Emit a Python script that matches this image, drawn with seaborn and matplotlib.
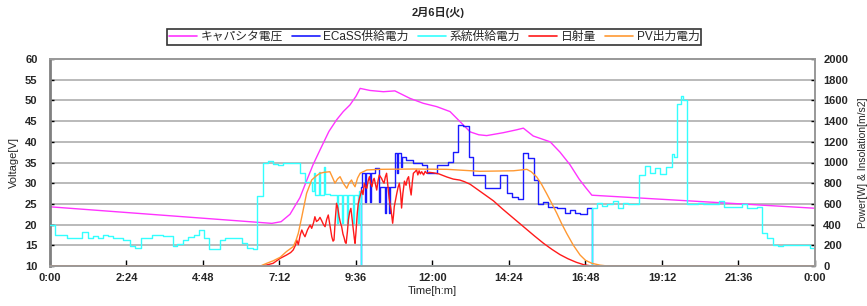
import numpy as np
import pandas as pd
import matplotlib
matplotlib.use("Agg")
import matplotlib.pyplot as plt
import seaborn as sns

# time axis in hours (0-24), power in W, voltage in V
tick_hours = [0, 2.4, 4.8, 7.2, 9.6, 12.0, 14.4, 16.8, 19.2, 21.6, 24.0]
tick_labels = ["0:00", "2:24", "4:48", "7:12", "9:36", "12:00", "14:24", "16:48", "19:12", "21:36", "0:00"]

# キャパシタ電圧 [V]
cap_t = [0, 6.96, 7.25, 7.53, 7.84, 8.05, 8.26, 8.5, 8.75, 8.99, 9.2, 9.41, 9.6, 9.73, 10.04, 10.46,
         10.82, 11.29, 11.71, 12.13, 12.55, 12.86, 13.18, 13.45, 13.7, 14.22, 14.64, 14.85, 15.16,
         15.69, 16.0, 16.31, 16.6, 16.8, 17.0, 24.0]
cap_v = [24.3, 20.3, 20.7, 22.5, 26.5, 30.6, 34.6, 38.5, 42.5, 45.3, 47.3, 48.9, 51.0, 52.9, 52.4, 52.1,
         52.3, 50.5, 49.3, 48.5, 47.3, 44.9, 42.4, 41.7, 41.5, 42.2, 42.9, 43.3, 41.4,
         40.0, 37.5, 34.5, 31.0, 29.0, 27.1, 23.95]

# ECaSS供給電力 [W]
ecass_t = [0, 9.75, 9.78, 9.88, 9.91, 10.03, 10.06, 10.20, 10.33, 10.36, 10.50, 10.53, 10.65, 10.68,
           10.82, 10.90, 10.93, 11.0, 11.03, 11.17, 11.29, 11.40, 11.66, 11.82, 12.13, 12.50, 12.65,
           12.81, 12.97, 13.15, 13.28, 13.65, 14.12, 14.33, 14.49, 14.69, 14.85, 15.01, 15.18, 15.32,
           15.48, 15.63, 15.90, 16.16, 16.31, 16.47, 16.63, 16.84, 17.0, 24.0]
ecass_w = [0, 768, 896, 620, 896, 620, 896, 944, 620, 768, 512, 768, 512, 768,
           1088, 900, 1088, 960, 1056, 1024, 1024, 992, 980, 896, 976, 1008, 1104,
           1364, 1350, 1056, 880, 752, 880, 704, 664, 650, 1088, 1040, 830, 600,
           620, 572, 565, 508, 540, 508, 500, 556, 0, 0]

# 系統供給電力 [W]
grid_t = [0, 0.157, 0.52, 0.99, 1.18, 1.36, 1.52, 1.67, 1.83, 1.99, 2.30, 2.51, 2.67, 2.84, 3.19,
          3.56, 3.85, 4.0, 4.16, 4.34, 4.52, 4.68, 4.83, 5.0, 5.33, 5.49, 6.01, 6.17, 6.38, 6.48,
          6.69, 6.85, 7.0, 7.16, 7.32, 7.84, 8.0, 8.21, 8.28, 8.31, 8.44, 8.47, 8.60, 8.63, 8.78,
          8.99, 9.02, 9.15, 9.18, 9.31, 9.34, 9.52, 9.55, 9.67, 9.70, 9.75, 17.0, 17.15, 17.31,
          17.46, 17.67, 17.83, 17.99, 18.14, 18.49, 18.67, 18.82, 18.98, 19.14, 19.33, 19.50, 19.58,
          19.66, 19.79, 19.87, 19.97, 20.34, 20.50, 21.0, 21.15, 21.70, 21.86, 22.17, 22.33, 22.48,
          22.67, 22.85, 23.01, 23.84, 24.0]
grid_w = [392, 304, 272, 328, 272, 288, 272, 304, 288, 272, 256, 192, 172, 272, 304,
          288, 192, 208, 256, 280, 304, 344, 272, 160, 248, 272, 224, 176, 160, 680,
          1000, 1016, 990, 976, 992, 896, 816, 720, 900, 688, 912, 688, 960, 700, 688,
          416, 688, 416, 688, 416, 688, 416, 688, 416, 720, 0, 560, 610, 580,
          600, 630, 560, 610, 600, 880, 970, 900, 950, 890, 960, 1080, 1050,
          1570, 1640, 1600, 600, 610, 600, 630, 570, 600, 560, 570, 320, 270,
          205, 190, 200, 175, 175]

# 日射量 [W/m2]
sun_t = [0, 6.6, 6.8, 7.0, 7.22, 7.42, 7.55, 7.63, 7.70, 7.74, 7.79, 7.85, 7.9, 7.95, 8.0, 8.08,
         8.16, 8.21, 8.27, 8.31, 8.36, 8.42, 8.47, 8.52, 8.58, 8.63, 8.68, 8.73, 8.78, 8.84, 8.88,
         8.91, 8.95, 8.99, 9.03, 9.07, 9.11, 9.15, 9.19, 9.23, 9.26, 9.29, 9.33, 9.36, 9.40, 9.44,
         9.48, 9.52, 9.55, 9.57, 9.60, 9.64, 9.67, 9.71, 9.75, 9.78, 9.82, 9.86, 9.90, 9.94, 9.98,
         10.02, 10.06, 10.1, 10.14, 10.17, 10.21, 10.25, 10.29, 10.33, 10.37, 10.4, 10.44, 10.48,
         10.52, 10.56, 10.60, 10.64, 10.67, 10.7, 10.73, 10.75, 10.78, 10.8, 10.84, 10.88, 10.92,
         10.96, 11.0, 11.03, 11.07, 11.12, 11.17, 11.21, 11.25, 11.29, 11.33, 11.37, 11.4, 11.45,
         11.5, 11.54, 11.58, 11.62, 11.66, 11.72, 11.77, 11.82, 11.9, 12.03, 12.2, 12.45, 12.65,
         12.86, 13.0, 13.18, 13.5, 13.91, 14.2, 14.43, 14.7, 14.95, 15.2, 15.48, 15.75, 16.0, 16.25,
         16.51, 16.75, 17.0, 24.0]
sun_w = [0, 0, 10, 26, 74, 106, 130, 155, 200, 251, 206, 300, 348, 310, 283, 350,
         396, 364, 420, 476, 430, 444, 470, 440, 400, 380, 450, 493, 400, 283, 240,
         251, 450, 606, 560, 476, 420, 380, 310, 270, 230, 219, 330, 444, 520, 557,
         450, 348, 260, 219, 330, 509, 600, 654, 700, 734, 690, 800, 760, 751, 820,
         863, 800, 766, 830, 847, 790, 734, 820, 879, 860, 847, 820, 800,
         860, 896, 780, 654, 600, 541, 460, 413, 500, 573, 640, 702, 760,
         800, 700, 560, 700, 820, 780, 840, 863, 760, 686, 820, 896, 910,
         928, 880, 920, 890, 911, 880, 915, 896, 905, 900, 890, 860, 840,
         830, 815, 790, 720, 630, 550, 490, 420, 355, 290, 220, 160, 110, 70,
         36, 12, 0, 0]

# PV出力電力 [W]
pv_t = [0, 6.6, 6.8, 7.0, 7.22, 7.42, 7.63, 7.72, 7.79, 7.9, 8.05, 8.21, 8.35, 8.47, 8.6, 8.78,
        8.87, 8.94, 9.02, 9.1, 9.2, 9.31, 9.38, 9.46, 9.52, 9.57, 9.65, 9.73, 9.94, 10.35, 11.4,
        12.45, 13.49, 14.54, 14.96, 15.1, 15.27, 15.42, 15.58, 15.75, 15.9, 16.05, 16.21, 16.42,
        16.63, 16.8, 17.0, 17.26, 17.5, 24.0]
pv_w = [0, 0, 26, 50, 84, 140, 187, 250, 316, 476, 702, 831, 870, 896, 905, 911,
        850, 800, 840, 863, 800, 751, 800, 831, 790, 766, 850, 896, 928, 934, 937,
        934, 915, 920, 934, 910, 860, 790, 700, 600, 509, 410, 315, 200,
        106, 55, 26, 8, 0, 0]

series_names = ["キャパシタ電圧", "ECaSS供給電力", "系統供給電力", "日射量", "PV出力電力"]
series_colors = ["#ff33ff", "#1a1aff", "#33ffff", "#ff1a1a", "#ff9933"]

sns.set_style("white")
plt.rcParams['font.family'] = ['Liberation Sans', 'Noto Sans CJK JP', 'DejaVu Sans']

fig = plt.figure(figsize=(8.67, 3.06), dpi=100)
ax = fig.add_axes([50 / 867, 40 / 306, 765 / 867, 207 / 306])
ax2 = ax.twinx()

lw = 1.0
sns.lineplot(x=cap_t, y=cap_v, ax=ax, color=series_colors[0], linewidth=lw,
             estimator=None, sort=False, legend=False)
sns.lineplot(x=ecass_t, y=ecass_w, ax=ax2, color=series_colors[1], linewidth=lw,
             drawstyle='steps-post', estimator=None, sort=False, legend=False)
sns.lineplot(x=grid_t, y=grid_w, ax=ax2, color=series_colors[2], linewidth=lw,
             drawstyle='steps-post', estimator=None, sort=False, legend=False)
sns.lineplot(x=sun_t, y=sun_w, ax=ax2, color=series_colors[3], linewidth=lw,
             estimator=None, sort=False, legend=False)
sns.lineplot(x=pv_t, y=pv_w, ax=ax2, color=series_colors[4], linewidth=lw,
             estimator=None, sort=False, legend=False)

ax.set_xlim(0, 24)
ax.set_ylim(10, 60)
ax2.set_ylim(0, 2000)
ax.set_yticks(np.arange(10, 61, 5))
ax2.set_yticks(np.arange(0, 2001, 200))
ax.set_xticks(tick_hours)
ax.set_xticklabels(tick_labels)

ax.yaxis.grid(True, color="#b4b4b4", linewidth=1.3)
ax.xaxis.grid(False)
ax2.grid(False)

for a in (ax, ax2):
    for s in a.spines.values():
        s.set_color("#9a9a9a")
        s.set_linewidth(1.3)
ax.spines['left'].set_color("#808080")
ax.spines['left'].set_linewidth(2)
ax2.spines['left'].set_visible(False)

ax.tick_params(axis='x', direction='in', length=4, width=1, color='black', pad=5, labelsize=8,
               bottom=True)
ax.tick_params(axis='y', direction='in', length=3, width=1, color='black', pad=9, labelsize=8,
               left=True)
ax2.tick_params(axis='y', direction='in', length=3, width=1, color='black', pad=6, labelsize=8,
                right=True)
for lab in ax.get_xticklabels() + ax.get_yticklabels() + ax2.get_yticklabels():
    lab.set_fontweight('bold')

ax.set_xlabel("Time[h:m]", fontsize=8, labelpad=2)
ax.set_ylabel("Voltage[V]", fontsize=8, labelpad=4)
ax2.set_ylabel("Power[W] & Insolation[m/s2]", fontsize=7.5, rotation=90)
ax2.yaxis.set_label_coords(1.0565, 0.5)

fig.text(0.505, 1 - 13 / 306, "2月6日(火)", ha='center', va='center', fontsize=8,
         fontweight='bold')

handles = [plt.Line2D([], [], color=c, linewidth=1.2) for c in series_colors]
leg = fig.legend(handles, series_names, loc='center', bbox_to_anchor=(434 / 867, 1 - 37 / 306),
                 ncol=5, frameon=True, fancybox=False, fontsize=8.5, handlelength=2.4,
                 handletextpad=0.3, columnspacing=0.75, borderpad=0.15, borderaxespad=0)
leg.get_frame().set_edgecolor('black')
leg.get_frame().set_linewidth(1.2)

fig.savefig("out.png", dpi=100)
